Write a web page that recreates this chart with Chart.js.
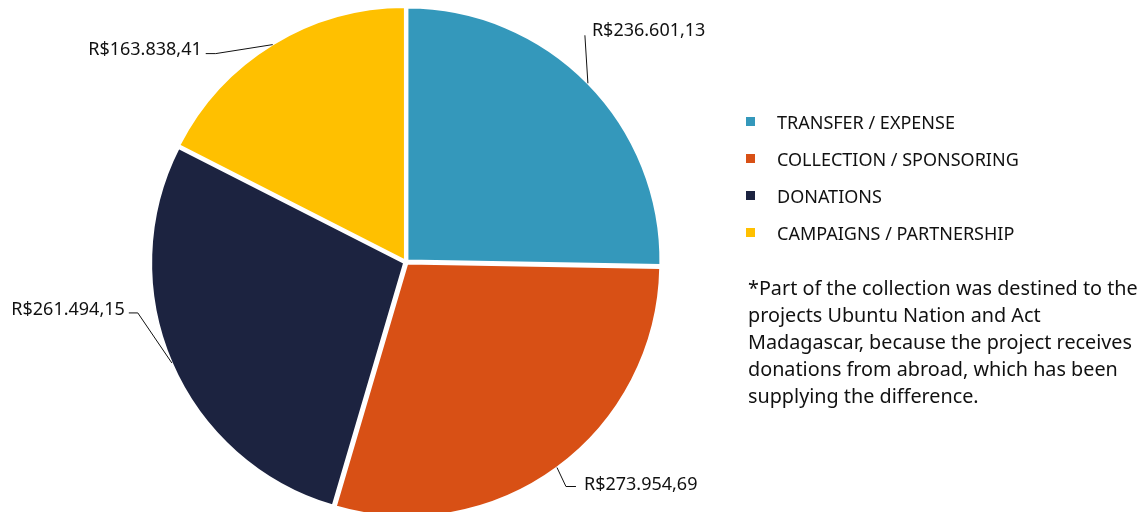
<!DOCTYPE html>
<html>
<head>
<meta charset="utf-8">
<script src="https://cdn.jsdelivr.net/npm/chart.js@4"></script>
<style>
  html, body { margin: 0; padding: 0; background: #fff; }
  #wrap { position: relative; width: 1145px; height: 512px; overflow: hidden; }
  #pie { position: absolute; left: 0; top: 0; }
  #legend { position: absolute; left: 746px; top: 103px; font-family: "Noto Sans", sans-serif; font-size: 18px; color: #111; }
  .row { height: 37px; display: flex; align-items: center; }
  .sw { width: 9px; height: 9px; margin-right: 22px; }
  #note { position: absolute; left: 748px; top: 274px; font-family: "Noto Sans", sans-serif; font-size: 19.8px; line-height: 27px; color: #111; white-space: nowrap; }
</style>
</head>
<body>
<div id="wrap">
  <canvas id="pie" width="1145" height="512"></canvas>
  <div id="legend"></div>
  <div id="note">*Part of the collection was destined to the<br>projects Ubuntu Nation and Act<br>Madagascar, because the project receives<br>donations from abroad, which has been<br>supplying the difference.</div>
</div>
<script>
// data
const categories = ['TRANSFER / EXPENSE', 'COLLECTION / SPONSORING', 'DONATIONS', 'CAMPAIGNS / PARTNERSHIP'];
const amounts    = [236601.13, 273954.69, 261494.15, 163838.41];
const colors     = ['#3498bb', '#d85015', '#1c2340', '#ffc000'];

// leader line shape per slice: elbow offset from the arc, then horizontal tail
const leaders = [
    { dx: -3,  dy: -48, tail: 0,   textDx: 7,  textDy: -4 },
    { dx: 9,   dy: 19,  tail: 10,  textDx: 8,  textDy: -2 },
    { dx: -34, dy: -50, tail: -9,  textDx: -4, textDy: -3 },
    { dx: -57, dy: 9,   tail: -10, textDx: -4, textDy: -4 }
];

const SLICE_OFFSET = 8;

function brl(v) {
    const parts = v.toFixed(2).split('.');
    const int = parts[0].replace(/\B(?=(\d{3})+(?!\d))/g, '.');
    return 'R$' + int + ',' + parts[1];
}

// ── Legend ────────────────────────────────────────────────────────────────
const legend = document.getElementById('legend');
categories.forEach((c, i) => {
    const row = document.createElement('div');
    row.className = 'row';
    row.innerHTML = '<div class="sw" style="background:' + colors[i] + '"></div><span>' + c + '</span>';
    legend.appendChild(row);
});

// ── Value labels with leader lines ───────────────────────────────────────
const leaderLabels = {
    id: 'leaderLabels',
    afterDatasetsDraw(chart) {
        const ctx = chart.ctx;
        const arcs = chart.getDatasetMeta(0).data;
        ctx.save();
        ctx.strokeStyle = '#111';
        ctx.lineWidth = 1;
        ctx.fillStyle = '#111';
        ctx.font = '18px "Noto Sans", sans-serif';
        ctx.textBaseline = 'middle';
        arcs.forEach((arc, i) => {
            const p = arc.getProps(['x', 'y', 'startAngle', 'endAngle', 'outerRadius'], true);
            const mid = (p.startAngle + p.endAngle) / 2;
            const r = p.outerRadius + SLICE_OFFSET / 4;
            const x0 = p.x + Math.cos(mid) * r;
            const y0 = p.y + Math.sin(mid) * r;
            const L = leaders[i];
            const x1 = x0 + L.dx, y1 = y0 + L.dy;
            const x2 = x1 + L.tail;
            ctx.beginPath();
            ctx.moveTo(x0, y0);
            ctx.lineTo(x1, y1);
            ctx.lineTo(x2, y1);
            ctx.stroke();
            const right = L.textDx >= 0;
            ctx.textAlign = right ? 'left' : 'right';
            ctx.fillText(brl(amounts[i]), x2 + L.textDx, y1 + L.textDy);
        });
        ctx.restore();
    }
};

new Chart(document.getElementById('pie'), {
    type: 'pie',
    data: {
        labels: categories,
        datasets: [{
            data: amounts,
            backgroundColor: colors,
            borderColor: '#ffffff',
            borderWidth: 2,
            offset: SLICE_OFFSET,
            hoverOffset: SLICE_OFFSET
        }]
    },
    options: {
        responsive: false,
        animation: false,
        radius: 253,
        layout: { padding: { left: 0, right: 333, top: 12, bottom: 0 } },
        plugins: { legend: { display: false }, tooltip: { enabled: false } }
    },
    plugins: [leaderLabels]
});
</script>
</body>
</html>
